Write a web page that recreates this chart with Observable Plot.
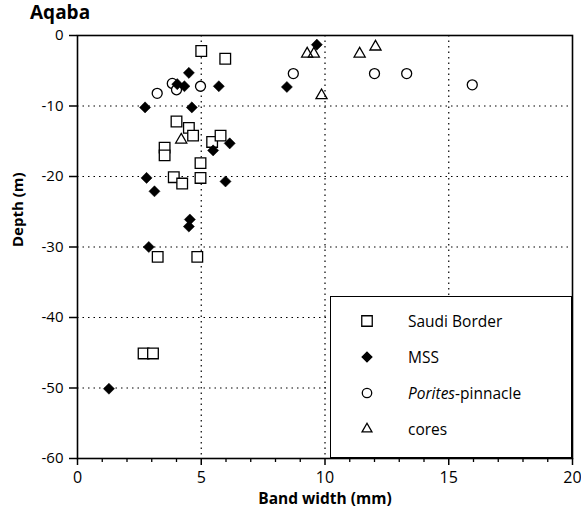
<!DOCTYPE html>
<html>
<head>
<meta charset="utf-8">
<script src="https://cdn.jsdelivr.net/npm/d3@7"></script>
<script src="https://cdn.jsdelivr.net/npm/@observablehq/plot@0.6"></script>
<style>
  html, body { margin: 0; padding: 0; background: #fff; }
  #wrap { position: relative; width: 581px; height: 518px; font-family: "Open Sans", sans-serif; }
  #title { position: absolute; left: 30px; top: 0px; font-size: 19px; line-height: 24px; font-weight: bold; color: #000; }
  #legend { position: absolute; left: 330px; top: 296px; width: 240px; height: 160px; border: 1.5px solid #000; background: #fff; }
  .item { position: absolute; left: 0; height: 20px; width: 240px; font-size: 15.5px; color: #000; }
  .item svg { position: absolute; left: 28px; top: 1px; }
  .item span { position: absolute; left: 77px; top: 0px; line-height: 20px; }
</style>
</head>
<body>
<div id="wrap">
  <div id="chart"></div>
  <div id="title">Aqaba</div>
  <div id="legend"></div>
</div>
<script>
// Series: Saudi Border (open squares)
const saudiX = [5.0, 5.97, 4.0, 4.5, 4.67, 5.44, 5.78, 3.52, 3.52, 4.97, 3.89, 4.23, 4.97, 3.24, 4.84, 2.67, 3.05];
const saudiY = [-2.2, -3.3, -12.2, -13.1, -14.2, -15.1, -14.2, -15.9, -17.0, -18.1, -20.1, -21.0, -20.2, -31.4, -31.4, -45.1, -45.1];
// Series: MSS (filled diamonds)
const mssX = [4.5, 4.03, 4.32, 5.71, 8.46, 9.67, 2.73, 4.62, 5.48, 6.15, 2.79, 3.11, 5.98, 4.54, 4.5, 2.88, 1.27];
const mssY = [-5.3, -6.9, -7.2, -7.2, -7.3, -1.3, -10.2, -10.2, -16.3, -15.3, -20.2, -22.1, -20.7, -26.1, -27.1, -30.0, -50.1];
// Series: Porites-pinnacle (open circles)
const poritesX = [3.22, 3.83, 4.0, 4.97, 8.72, 12.0, 13.3, 15.95];
const poritesY = [-8.2, -6.8, -7.7, -7.2, -5.4, -5.4, -5.4, -7.0];
// Series: cores (open triangles)
const coresX = [9.28, 9.55, 11.4, 12.04, 9.86, 4.19];
const coresY = [-2.6, -2.6, -2.6, -1.6, -8.5, -14.8];

// Ticks
const xTicks = [0, 5, 10, 15, 20];
const xMinorTicks = [1, 2, 3, 4, 6, 7, 8, 9, 11, 12, 13, 14, 16, 17, 18, 19];
const yTicks = [0, -10, -20, -30, -40, -50, -60];
const xGrid = [5, 10, 15];
const yGrid = [-10, -20, -30, -40, -50];

const seriesNames = ["Saudi Border", "MSS", "Porites-pinnacle", "cores"];

const toRows = (xs, ys) => xs.map((x, i) => ({x, y: ys[i]}));
const saudi = toRows(saudiX, saudiY);
const mss = toRows(mssX, mssY);
const porites = toRows(poritesX, poritesY);
const cores = toRows(coresX, coresY);

const font = "Open Sans, sans-serif";

const chart = Plot.plot({
  width: 581,
  height: 518,
  marginLeft: 77,
  marginRight: 9,
  marginTop: 35,
  marginBottom: 60,
  style: { fontFamily: font, background: "white", color: "black" },
  x: { domain: [0, 20] },
  y: { domain: [-60, 0] },
  marks: [
    Plot.gridX(xGrid, { stroke: "black", strokeOpacity: 1, strokeWidth: 1.2, strokeDasharray: "1.5,4" }),
    Plot.gridY(yGrid, { stroke: "black", strokeOpacity: 1, strokeWidth: 1.2, strokeDasharray: "1.5,4" }),
    Plot.dot(saudi, { x: "x", y: "y", symbol: "square", r: 6, fill: "white", stroke: "black", strokeWidth: 1.3 }),
    Plot.dot(porites, { x: "x", y: "y", symbol: "circle", r: 5, fill: "white", stroke: "black", strokeWidth: 1.3 }),
    Plot.dot(cores, { x: "x", y: "y", symbol: "triangle2", r: 5.3, fill: "none", stroke: "black", strokeWidth: 1.3 }),
    Plot.dot(mss, { x: "x", y: "y", symbol: "diamond2", r: 5, fill: "black", stroke: "black", strokeWidth: 0.5 }),
    Plot.frame({ stroke: "black", strokeWidth: 1.6 }),
    Plot.axisX(xMinorTicks, { tickSize: 4, tickFormat: () => "", label: null, strokeWidth: 1.3 }),
    Plot.axisX(xTicks, { tickSize: 7, tickPadding: 6, fontSize: 16, label: null, strokeWidth: 1.5, tickFormat: d => String(d) }),
    Plot.axisY(yTicks, { tickSize: 8, tickPadding: 6, fontSize: 15, label: null, strokeWidth: 1.5, tickFormat: d => d === 0 ? "0" : "-" + Math.abs(d) }),
    Plot.text(["Band width (mm)"], { frameAnchor: "bottom", dy: 45, fontSize: 15.5, fontWeight: "bold", text: d => d }),
    Plot.text(["Depth (m)"], { frameAnchor: "left", dx: -59, rotate: -90, fontSize: 15, fontWeight: "bold", text: d => d })
  ]
});
document.getElementById("chart").appendChild(chart);

// Legend
const legend = document.getElementById("legend");
const symbolDefs = [
  { sym: d3.symbolSquare, size: 110, fill: "white", stroke: "black" },
  { sym: d3.symbolDiamond2, size: 60, fill: "black", stroke: "black" },
  { sym: d3.symbolCircle, size: 70, fill: "white", stroke: "black" },
  { sym: d3.symbolTriangle2, size: 70, fill: "none", stroke: "black" }
];
const rowTops = [14, 50, 86, 122];
seriesNames.forEach((name, i) => {
  const item = document.createElement("div");
  item.className = "item";
  item.style.top = rowTops[i] + "px";
  const s = symbolDefs[i];
  const path = d3.symbol(s.sym, s.size)();
  const svgNS = "http://www.w3.org/2000/svg";
  const svg = document.createElementNS(svgNS, "svg");
  svg.setAttribute("width", 16);
  svg.setAttribute("height", 18);
  const p = document.createElementNS(svgNS, "path");
  p.setAttribute("d", path);
  p.setAttribute("transform", "translate(8,9)");
  p.setAttribute("fill", s.fill);
  p.setAttribute("stroke", s.stroke);
  p.setAttribute("stroke-width", 1.3);
  svg.appendChild(p);
  item.appendChild(svg);
  const span = document.createElement("span");
  if (name === "Porites-pinnacle") {
    span.innerHTML = "<i>Porites</i>-pinnacle";
  } else {
    span.textContent = name;
  }
  item.appendChild(span);
  legend.appendChild(item);
});
</script>
</body>
</html>
